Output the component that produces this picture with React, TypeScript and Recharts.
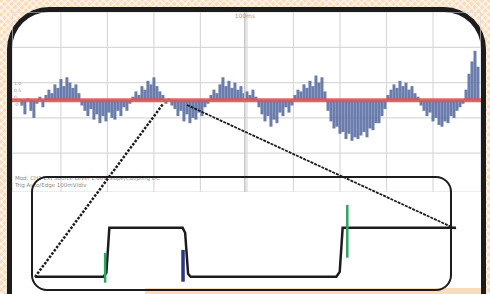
import { ComposedChart, LineChart, Bar, Line, XAxis, YAxis, CartesianGrid, ReferenceLine } from 'recharts'

// top trace: sample index -> signal deviation
const noise = [
  -0.3, -0.8, 0.1, -0.6, -1.0, -0.2, 0.2, -0.4,
  0.3, 0.6, 0.4, 0.9, 0.7, 1.2, 0.8, 1.3, 1.0, 0.7, 0.9, 0.4,
  -0.3, -0.6, -0.9, -0.5, -1.1, -0.8, -1.3, -0.9, -1.2, -0.7, -1.0, -1.1, -0.6, -0.9, -0.4, -0.6, -0.2,
  0.2, 0.5, 0.3, 0.8, 0.6, 1.1, 0.9, 1.3, 0.8, 0.5, 0.3,
  -0.2, 0.1, -0.3,
  -0.5, -0.9, -0.6, -1.2, -0.8, -1.3, -1.0, -1.1, -0.7, -0.9, -0.4, -0.2,
  0.3, 0.6, 0.4, 0.9, 1.3, 0.8, 1.1, 0.7, 1.0, 0.6, 0.8, 0.4, 0.5, 0.3, 0.6, 0.2,
  -0.4, -0.8, -1.2, -0.9, -1.5, -1.1, -1.3, -0.7, -0.9,
  -0.4, -0.7, -0.3,
  0.3, 0.6, 0.5, 0.9, 0.7, 1.1, 0.8, 1.4, 1.0, 1.3, 0.5,
  -0.6, -1.2, -1.6, -1.5, -1.9, -1.8, -2.2, -1.9, -2.3, -2.1, -2.2, -2.0, -1.8, -2.1, -1.6, -1.7, -1.3, -1.3, -0.9, -0.5,
  0.3, 0.6, 0.9, 0.7, 1.1, 0.8, 1.0, 0.6, 0.8, 0.4, 0.2,
  -0.3, -0.6, -0.9, -0.7, -1.2, -1.0, -1.4, -1.5, -1.2, -1.3, -0.9, -1.0, -0.6, -0.4, -0.2,
  0.6, 1.5, 2.2, 2.8, 1.9,
]
const gridX = [13, 28.5, 44, 59.5, 75, 90.5, 106, 121.5, 137]
const gridY = [-5, -4, -3, -2, -1, 0, 1, 2, 3, 4, 5]
const cursorAt = 74.3
const sideLabels = ['1.0', '0.5', '0', '-0.5']

// zoomed inset: time (0..100) vs logic level
const stepT = [1, 17.2, 17.9, 18.6, 36.0, 36.6, 37.3, 37.9, 72.5, 73.3, 74.0, 100.9]
const stepV = [0, 0, 0.08, 1, 1, 0.9, 0.06, 0, 0, 0.1, 1, 1]
const spikeA = [{ t: 17.6, v: 0.49 }, { t: 17.6, v: -0.12 }]
const spikeB = [{ t: 36.1, v: 0.55 }, { t: 36.1, v: -0.1 }]
const spikeC = [{ t: 75.1, v: 1.47 }, { t: 75.1, v: 0.39 }]

// zoom connector lines, page pixels
const linkA = [{ x: 35, y: 277 }, { x: 163, y: 104 }]
const linkB = [{ x: 187, y: 105 }, { x: 456, y: 229 }]

const traceData = noise.map((v, i) => ({ i, v }))
const stepData = stepT.map((t, k) => ({ t, v: stepV[k] }))

export default function App() {
  return (
    <div
      style={{
        position: 'absolute',
        left: 0,
        top: 0,
        width: 490,
        height: 294,
        overflow: 'hidden',
        background: '#f8dcbc',
        backgroundImage:
          'repeating-linear-gradient(45deg, rgba(255,255,255,0.45) 0 2px, transparent 2px 5px), repeating-linear-gradient(-45deg, rgba(255,255,255,0.45) 0 2px, transparent 2px 5px)',
        fontFamily: 'DejaVu Sans, sans-serif',
      }}
    >
      <div
        style={{
          position: 'absolute',
          left: 7,
          top: 7,
          width: 479,
          height: 320,
          boxSizing: 'border-box',
          border: '5px solid #1c1c1c',
          borderBottom: 'none',
          borderRadius: '42px 42px 0 0',
          background: '#fff',
        }}
      />
      <div style={{ position: 'absolute', left: 145, top: 288, width: 336, height: 10, background: '#f8dcbc' }} />

      <div style={{ position: 'absolute', left: 12, top: 12 }}>
        <ComposedChart
          width={469}
          height={180}
          data={traceData}
          barCategoryGap={0}
          barGap={0}
          margin={{ top: 0, right: 0, bottom: 0, left: 0 }}
        >
          <CartesianGrid stroke="#d9d9d9" strokeWidth={1.2} />
          <XAxis type="number" dataKey="i" domain={[-3.3, 153]} ticks={gridX} hide />
          <YAxis type="number" domain={[-5.2, 5]} ticks={gridY} hide />
          <ReferenceLine
            x={cursorAt}
            stroke="#c4c4c4"
            strokeWidth={1.5}
            label={{ value: '100ms', position: 'insideTop', fontSize: 6, fill: '#a0a0a0', offset: 2 }}
          />
          <Bar dataKey="v" fill="#51669f" fillOpacity={0.85} isAnimationActive={false} />
          <ReferenceLine y={0} stroke="#dc5450" strokeWidth={4} strokeOpacity={0.9} />
        </ComposedChart>
      </div>

      <div style={{ position: 'absolute', left: 14, top: 80, fontSize: 4.5, color: '#9a9a9a', lineHeight: '7px' }}>
        {sideLabels.map((s) => (
          <div key={s}>{s}</div>
        ))}
      </div>

      <div style={{ position: 'absolute', left: 15, top: 175, fontSize: 5.5, color: '#8a8a8a', lineHeight: '7px', whiteSpace: 'nowrap' }}>
        <div>Mod: CH1 Ext  Source  Level  1.00V  Slope/Coupling  DC</div>
        <div>Trig  Auto/Edge  100mV/div</div>
      </div>

      <div
        style={{
          position: 'absolute',
          left: 31,
          top: 176,
          width: 421,
          height: 115,
          boxSizing: 'border-box',
          border: '2.5px solid #1c1c1c',
          borderRadius: 16,
        }}
      />

      <div style={{ position: 'absolute', left: 31, top: 176 }}>
        <LineChart width={430} height={115} margin={{ top: 0, right: 0, bottom: 0, left: 0 }}>
          <XAxis type="number" dataKey="t" domain={[0, 102.1]} hide allowDataOverflow />
          <YAxis type="number" dataKey="v" domain={[-0.29, 2.06]} hide allowDataOverflow />
          <Line data={stepData} dataKey="v" stroke="#1c1c1c" strokeWidth={2.5} dot={false} activeDot={false} isAnimationActive={false} />
          <Line data={spikeA} dataKey="v" stroke="#2fa464" strokeWidth={2.5} dot={false} activeDot={false} isAnimationActive={false} />
          <Line data={spikeB} dataKey="v" stroke="#2b3579" strokeWidth={3.5} dot={false} activeDot={false} isAnimationActive={false} />
          <Line data={spikeC} dataKey="v" stroke="#2fa464" strokeWidth={2.5} dot={false} activeDot={false} isAnimationActive={false} />
        </LineChart>
      </div>

      <div style={{ position: 'absolute', left: 0, top: 0 }}>
        <LineChart width={490} height={294} margin={{ top: 0, right: 0, bottom: 0, left: 0 }}>
          <XAxis type="number" dataKey="x" domain={[0, 490]} hide />
          <YAxis type="number" dataKey="y" domain={[0, 294]} reversed hide />
          <Line data={linkA} dataKey="y" stroke="#1c1c1c" strokeWidth={2.5} strokeDasharray="2.5 1.5" dot={false} activeDot={false} isAnimationActive={false} />
          <Line data={linkB} dataKey="y" stroke="#1c1c1c" strokeWidth={1.8} strokeDasharray="3 1" dot={false} activeDot={false} isAnimationActive={false} />
        </LineChart>
      </div>
    </div>
  )
}
